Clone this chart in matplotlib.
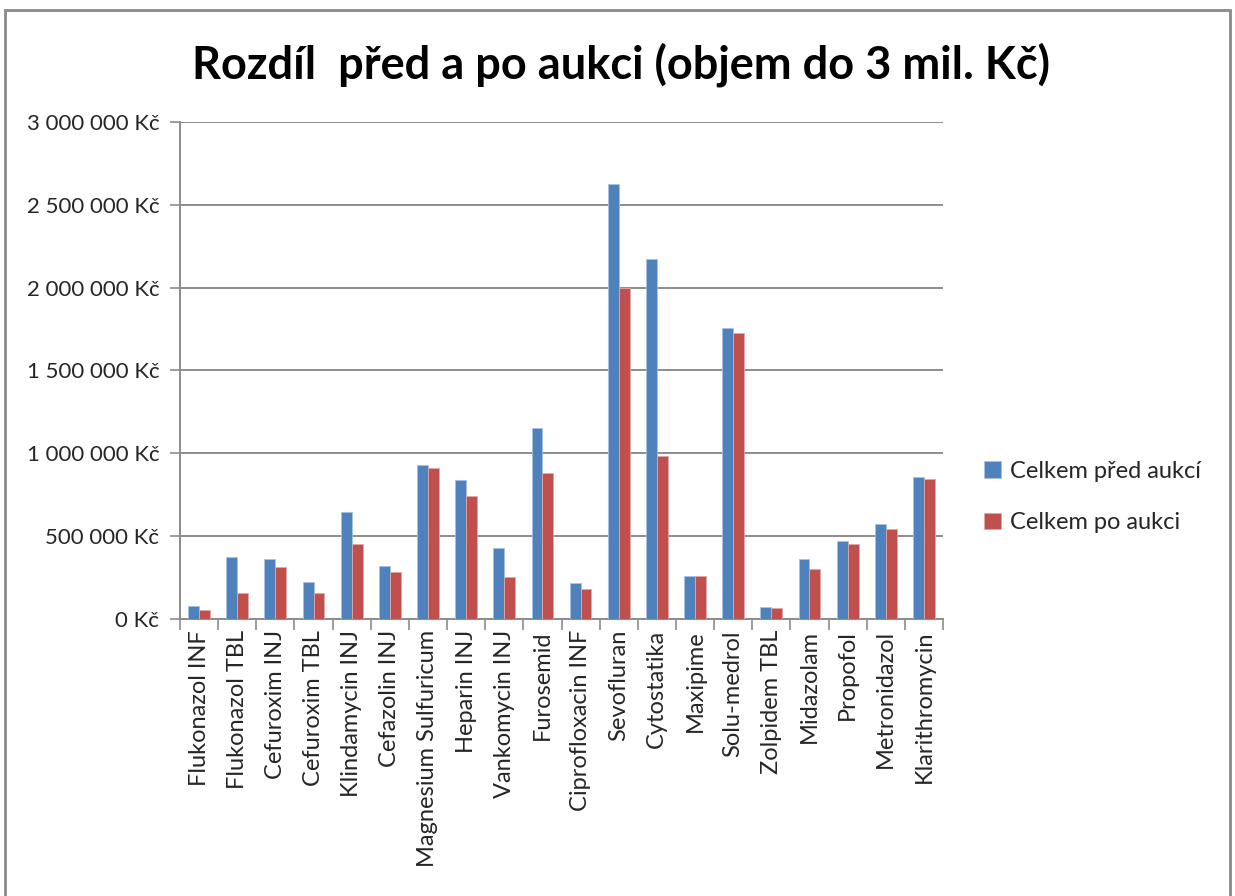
import matplotlib.pyplot as plt
import numpy as np
from matplotlib.patches import Rectangle
from matplotlib.ticker import FuncFormatter, FixedLocator

# Data (CZK)
categories = ["Flukonazol INF", "Flukonazol TBL", "Cefuroxim INJ", "Cefuroxim TBL",
              "Klindamycin INJ", "Cefazolin INJ", "Magnesium Sulfuricum", "Heparin INJ",
              "Vankomycin INJ", "Furosemid", "Ciprofloxacin INF", "Sevofluran",
              "Cytostatika", "Maxipime", "Solu-medrol", "Zolpidem TBL", "Midazolam",
              "Propofol", "Metronidazol", "Klarithromycin"]
pred_aukci = [80_000, 376_000, 360_000, 221_000, 648_000, 322_000, 927_000, 842_000,
              431_000, 1_150_000, 219_000, 2_627_000, 2_175_000, 259_000, 1_756_000,
              74_000, 360_000, 469_000, 576_000, 856_000]
po_aukci = [57_000, 158_000, 316_000, 158_000, 455_000, 283_000, 910_000, 741_000,
            251_000, 880_000, 180_000, 2_001_000, 981_000, 259_000, 1_725_000,
            66_000, 300_000, 455_000, 546_000, 848_000]

BLUE = "#4F81BD"
RED = "#C0504D"
GRID = "#8C8C8C"
TXT = "#262626"

plt.rcParams['font.family'] = ['Lato', 'DejaVu Sans']

fig = plt.figure(figsize=(12.35, 8.96), dpi=100)
ax = fig.add_axes([180 / 1235, 1 - 619 / 896, (943 - 180) / 1235, (619 - 122) / 896])

# outer chart frame
fig.patches.append(Rectangle((5 / 1235, -0.05), 1225 / 1235, 1.05 - 10 / 896,
                             transform=fig.transFigure, fill=False,
                             edgecolor="#8A8A8A", linewidth=2))

x = np.arange(len(categories))
w = 1 / 3.5
ax.bar(x - w / 2, pred_aukci, w, color=BLUE, edgecolor="#A9C1E0", linewidth=0.6,
       label="Celkem před aukcí", zorder=3)
ax.bar(x + w / 2, po_aukci, w, color=RED, edgecolor="#E0A9A8", linewidth=0.6,
       label="Celkem po aukci", zorder=3)

ax.set_xlim(-0.5, len(categories) - 0.5)
ax.set_ylim(0, 3_000_000)
ax.set_yticks(np.arange(0, 3_000_001, 500_000))
ax.yaxis.set_major_formatter(FuncFormatter(
    lambda v, p: f"{int(v):,} Kč".replace(",", " ")))
ax.grid(axis="y", color=GRID, linewidth=1.4, zorder=0)

ax.set_xticks(x)
ax.set_xticklabels(categories, rotation=90, fontsize=17, color=TXT)
ax.tick_params(axis="x", length=0, pad=8)
ax.xaxis.set_minor_locator(FixedLocator(np.arange(-0.5, len(categories), 1)))
ax.tick_params(axis="x", which="minor", length=8, color=GRID, width=1.2)
ax.tick_params(axis="y", labelsize=16, labelcolor=TXT, length=7, color=GRID,
               width=1.2, pad=8)

for s in ["top", "right"]:
    ax.spines[s].set_visible(False)
for s in ["left", "bottom"]:
    ax.spines[s].set_color(GRID)
    ax.spines[s].set_linewidth(1.4)

fig.text(621 / 1235, 1 - 65 / 896, "Rozdíl  před a po aukci (objem do 3 mil. Kč)",
         ha="center", va="center", fontsize=32.5, fontweight="bold")

leg = fig.legend(loc="center left", bbox_to_anchor=(963 / 1235, 1 - 497 / 896),
                 frameon=False, fontsize=17, handlelength=0.7, handleheight=0.7,
                 labelspacing=1.3, handletextpad=0.4)
for t in leg.get_texts():
    t.set_color(TXT)

fig.savefig("out.png", dpi=100)
